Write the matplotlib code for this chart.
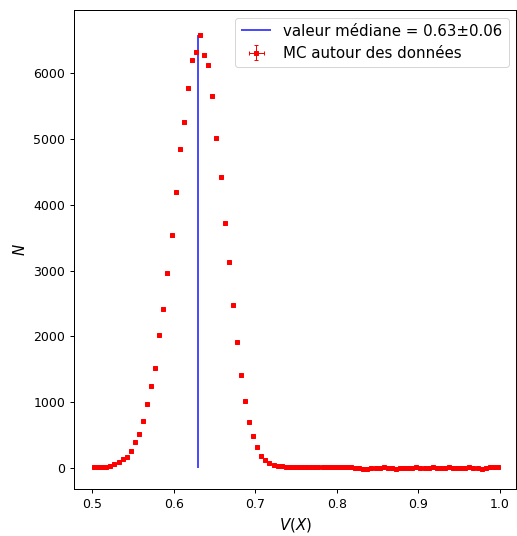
import numpy as np
import matplotlib
matplotlib.use('Agg')
import matplotlib.pyplot as plt

# histogramme des V(X) obtenus par Monte Carlo
bin_edges = np.linspace(0.5, 1.0, 101)
centres = (bin_edges[:-1] + bin_edges[1:]) / 2
counts = [10, 10, 15, 20, 35, 56, 87, 132, 172, 258,
          390, 521, 716, 968, 1251, 1520, 2018, 2421, 2958, 3536,
          4190, 4843, 5258, 5775, 6196, 6327, 6580, 6277, 6120, 5658,
          5010, 4425, 3723, 3126, 2477, 1920, 1409, 1023, 694, 486,
          319, 182, 122, 81, 46, 30, 24, 20, 17, 15,
          13, 12, 12, 11, 11, 10, 10, 10, 10, 10,
          10, 10, 10, 9, -5, 2, -8, -10, -2, 5,
          -5, 8, -3, 6, -8, 4, 7, -4, 5, 8,
          -2, 6, 3, 9, -4, 6, 2, 8, -6, 4,
          7, 1, 8, -3, 6, -9, 5, 9, 8, 9]
mediane = 0.63
incertitude = 0.06

counts = np.array(counts)
yerr = np.sqrt(np.abs(counts)) / 3
xerr = 0.001

s = 1.25  # image rendue a plus haute resolution
fig = plt.figure(figsize=(517 / 72, 536 / 72), dpi=72)
ax = fig.add_axes([74 / 517, 47 / 536, 442 / 517, 479 / 536])

ax.errorbar(centres, counts, xerr=xerr, yerr=yerr, fmt='s', color='red',
            markersize=4, capsize=2, elinewidth=1,
            label='MC autour des données')
ax.vlines(mediane, 0, counts.max(), color='blue', alpha=0.75, linewidth=1.5 * s,
          label=f'valeur médiane = {mediane}±{incertitude}')

ax.set_xlim(0.47794, 1.01961)
ax.set_ylim(-319, 6960)
ax.set_xticks([0.5, 0.6, 0.7, 0.8, 0.9, 1.0])
ax.set_yticks([0, 1000, 2000, 3000, 4000, 5000, 6000])
ax.tick_params(labelsize=10 * s, length=3.5 * s, width=0.8 * s, pad=3.5 * s)
for sp in ax.spines.values():
    sp.set_linewidth(0.8 * s)
ax.set_xlabel('$V(X)$', fontsize=12 * s, labelpad=4 * s)
ax.set_ylabel('$N$', fontsize=12 * s, labelpad=4 * s)
ax.legend(loc='upper right', fontsize=12 * s)

fig.savefig('out.png', dpi=72)
